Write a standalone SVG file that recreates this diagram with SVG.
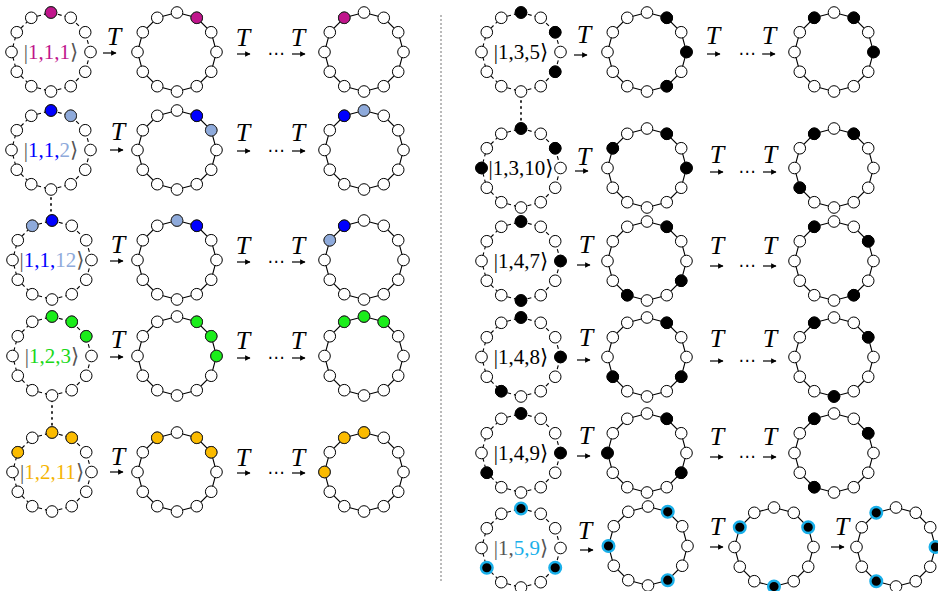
<svg xmlns="http://www.w3.org/2000/svg" xmlns:xlink="http://www.w3.org/1999/xlink" width="938" height="591" viewBox="0 0 938 591">
<style>
.n{fill:#fff;stroke:#000;stroke-width:1}
.rs{fill:none;stroke:#000;stroke-width:1.1}
.rd{fill:none;stroke:#000;stroke-width:1.1;stroke-dasharray:4 3}
.pk{fill:#c0158c;stroke:#222;stroke-width:1}
.bl{fill:#0000ff;stroke:#111;stroke-width:1}
.lb{fill:#8eaadb;stroke:#333;stroke-width:1}
.gr{fill:#1aee1a;stroke:#222;stroke-width:1}
.or{fill:#fbbb00;stroke:#222;stroke-width:1}
.bk{fill:#000;stroke:#000;stroke-width:1}
.cy{fill:#000;stroke:#1ab0ea;stroke-width:2.4}
.lbl{font-family:"Liberation Serif","DejaVu Serif",serif;font-size:21px;text-anchor:middle;fill:#555}
.lblk{fill:#000}
.T{font-family:"Liberation Serif","DejaVu Serif",serif;font-style:italic;font-size:26px;text-anchor:middle;fill:#000}
.dots{font-family:"DejaVu Sans",sans-serif;font-size:17px;text-anchor:middle;fill:#000}
.ar{stroke:#000;stroke-width:1.2;fill:none;marker-end:url(#ah)}
.vd{stroke:#000;stroke-width:1.6;stroke-dasharray:1.4 4.5;stroke-linecap:round}
.div{stroke:#777;stroke-width:1;stroke-dasharray:2 2}
</style>
<defs>
<marker id="ah" viewBox="0 0 10 10" refX="9" refY="5" markerWidth="4.5" markerHeight="4.5" orient="auto" markerUnits="strokeWidth"><path d="M0,0 L10,5 L0,10 z" fill="#000"/></marker>
<g id="nodes">
<circle class="n" cx="0" cy="-39.5" r="5.8"/><circle class="n" cx="19.75" cy="-34.21" r="5.8"/><circle class="n" cx="34.21" cy="-19.75" r="5.8"/><circle class="n" cx="39.5" cy="0" r="5.8"/><circle class="n" cx="34.21" cy="19.75" r="5.8"/><circle class="n" cx="19.75" cy="34.21" r="5.8"/><circle class="n" cx="0" cy="39.5" r="5.8"/><circle class="n" cx="-19.75" cy="34.21" r="5.8"/><circle class="n" cx="-34.21" cy="19.75" r="5.8"/><circle class="n" cx="-39.5" cy="0" r="5.8"/><circle class="n" cx="-34.21" cy="-19.75" r="5.8"/><circle class="n" cx="-19.75" cy="-34.21" r="5.8"/>
</g>
<g id="ringS"><polygon class="rs" points="0,-39.5 19.75,-34.21 34.21,-19.75 39.5,0 34.21,19.75 19.75,34.21 0,39.5 -19.75,34.21 -34.21,19.75 -39.5,0 -34.21,-19.75 -19.75,-34.21"/><use href="#nodes"/></g>
<g id="ringD"><polygon class="rd" points="0,-39.5 19.75,-34.21 34.21,-19.75 39.5,0 34.21,19.75 19.75,34.21 0,39.5 -19.75,34.21 -34.21,19.75 -39.5,0 -34.21,-19.75 -19.75,-34.21"/><use href="#nodes"/></g>
</defs>
<rect width="938" height="591" fill="#fff"/>

<g id="connectors">
<line class="div" x1="441" y1="15" x2="441" y2="583"/>
<line class="vd" x1="51" y1="192" x2="51" y2="211"/>
<line class="vd" x1="52" y1="400" x2="52" y2="426"/>
<line class="vd" x1="521" y1="95" x2="521" y2="122"/>
<line class="ar" x1="103" y1="53" x2="116" y2="53"/><line class="ar" x1="237" y1="54" x2="250" y2="54"/><line class="ar" x1="292" y1="54" x2="305" y2="54"/>
<line class="ar" x1="110" y1="150" x2="123" y2="150"/><line class="ar" x1="237" y1="151" x2="250" y2="151"/><line class="ar" x1="292" y1="151" x2="305" y2="151"/>
<line class="ar" x1="110" y1="261" x2="123" y2="261"/><line class="ar" x1="237" y1="262" x2="250" y2="262"/><line class="ar" x1="292" y1="262" x2="305" y2="262"/>
<line class="ar" x1="110" y1="357" x2="123" y2="357"/><line class="ar" x1="237" y1="358" x2="250" y2="358"/><line class="ar" x1="292" y1="358" x2="305" y2="358"/>
<line class="ar" x1="110" y1="472" x2="123" y2="472"/><line class="ar" x1="237" y1="473" x2="250" y2="473"/><line class="ar" x1="292" y1="473" x2="305" y2="473"/>
<line class="ar" x1="574" y1="55" x2="587" y2="55"/><line class="ar" x1="707" y1="54" x2="720" y2="54"/><line class="ar" x1="762" y1="54" x2="775" y2="54"/>
<line class="ar" x1="575" y1="171" x2="588" y2="171"/><line class="ar" x1="710" y1="172" x2="723" y2="172"/><line class="ar" x1="763" y1="172" x2="776" y2="172"/>
<line class="ar" x1="577" y1="265" x2="590" y2="265"/><line class="ar" x1="710" y1="266" x2="723" y2="266"/><line class="ar" x1="763" y1="266" x2="776" y2="266"/>
<line class="ar" x1="577" y1="360" x2="590" y2="360"/><line class="ar" x1="710" y1="361" x2="723" y2="361"/><line class="ar" x1="763" y1="361" x2="776" y2="361"/>
<line class="ar" x1="577" y1="456" x2="590" y2="456"/><line class="ar" x1="710" y1="457" x2="723" y2="457"/><line class="ar" x1="763" y1="457" x2="776" y2="457"/>
<line class="ar" x1="580" y1="550" x2="593" y2="550"/><line class="ar" x1="710" y1="547" x2="723" y2="547"/><line class="ar" x1="831" y1="547" x2="844" y2="547"/>
</g>

<g id="labels-T">
<text class="T" x="114" y="45">T</text><text class="T" x="243" y="46">T</text><text class="dots" x="276" y="59">⋯</text><text class="T" x="298" y="46">T</text>
<text class="T" x="118" y="140">T</text><text class="T" x="243" y="141">T</text><text class="dots" x="276" y="156">⋯</text><text class="T" x="298" y="141">T</text>
<text class="T" x="118" y="253">T</text><text class="T" x="243" y="254">T</text><text class="dots" x="276" y="267">⋯</text><text class="T" x="298" y="254">T</text>
<text class="T" x="118" y="348">T</text><text class="T" x="243" y="349">T</text><text class="dots" x="276" y="363">⋯</text><text class="T" x="298" y="349">T</text>
<text class="T" x="118" y="465">T</text><text class="T" x="243" y="466">T</text><text class="dots" x="276" y="478">⋯</text><text class="T" x="298" y="466">T</text>
<text class="T" x="584" y="43">T</text><text class="T" x="713" y="44">T</text><text class="dots" x="747" y="59">⋯</text><text class="T" x="769" y="44">T</text>
<text class="T" x="584" y="165">T</text><text class="T" x="717" y="163">T</text><text class="dots" x="747" y="177">⋯</text><text class="T" x="770" y="163">T</text>
<text class="T" x="586" y="253">T</text><text class="T" x="717" y="254">T</text><text class="dots" x="747" y="271">⋯</text><text class="T" x="770" y="254">T</text>
<text class="T" x="586" y="346">T</text><text class="T" x="717" y="347">T</text><text class="dots" x="747" y="366">⋯</text><text class="T" x="770" y="347">T</text>
<text class="T" x="586" y="444">T</text><text class="T" x="717" y="445">T</text><text class="dots" x="747" y="462">⋯</text><text class="T" x="770" y="445">T</text>
<text class="T" x="585" y="539">T</text><text class="T" x="717" y="535">T</text><text class="T" x="842" y="535">T</text>
</g>

<g id="row111">
<g id="r111a" transform="translate(51,52)"><use href="#ringD"/><circle class="pk" cx="0" cy="-39.5" r="5.8"/><text class="lbl" x="0" y="7">|<tspan fill="#c0158c">1,1,1</tspan>⟩</text></g>
<g id="r111b" transform="translate(177,52)"><use href="#ringS"/><circle class="pk" cx="19.75" cy="-34.21" r="5.8"/></g>
<g id="r111c" transform="translate(364,52)"><use href="#ringS"/><circle class="pk" cx="-19.75" cy="-34.21" r="5.8"/></g>
</g>
<g id="row112">
<g id="r112a" transform="translate(51,150)"><use href="#ringD"/><circle class="bl" cx="0" cy="-39.5" r="5.8"/><circle class="lb" cx="19.75" cy="-34.21" r="5.8"/><text class="lbl" x="0" y="7">|<tspan fill="#0000ff">1,1,</tspan><tspan fill="#8eaadb">2</tspan>⟩</text></g>
<g id="r112b" transform="translate(177,150)"><use href="#ringS"/><circle class="bl" cx="19.75" cy="-34.21" r="5.8"/><circle class="lb" cx="34.21" cy="-19.75" r="5.8"/></g>
<g id="r112c" transform="translate(364,150)"><use href="#ringS"/><circle class="bl" cx="-19.75" cy="-34.21" r="5.8"/><circle class="lb" cx="0" cy="-39.5" r="5.8"/></g>
</g>
<g id="row1112">
<g id="r1112a" transform="translate(52,260)"><use href="#ringD"/><circle class="bl" cx="0" cy="-39.5" r="5.8"/><circle class="lb" cx="-19.75" cy="-34.21" r="5.8"/><text class="lbl" x="0" y="7">|<tspan fill="#0000ff">1,1,</tspan><tspan fill="#8eaadb">12</tspan>⟩</text></g>
<g id="r1112b" transform="translate(177,260)"><use href="#ringS"/><circle class="lb" cx="0" cy="-39.5" r="5.8"/><circle class="bl" cx="19.75" cy="-34.21" r="5.8"/></g>
<g id="r1112c" transform="translate(364,260)"><use href="#ringS"/><circle class="bl" cx="-19.75" cy="-34.21" r="5.8"/><circle class="lb" cx="-34.21" cy="-19.75" r="5.8"/></g>
</g>
<g id="row123">
<g id="r123a" transform="translate(52,356)"><use href="#ringD"/><circle class="gr" cx="0" cy="-39.5" r="5.8"/><circle class="gr" cx="19.75" cy="-34.21" r="5.8"/><circle class="gr" cx="34.21" cy="-19.75" r="5.8"/><text class="lbl" x="0" y="7">|<tspan fill="#1ad81a">1,2,3</tspan>⟩</text></g>
<g id="r123b" transform="translate(177,356)"><use href="#ringS"/><circle class="gr" cx="19.75" cy="-34.21" r="5.8"/><circle class="gr" cx="34.21" cy="-19.75" r="5.8"/><circle class="gr" cx="39.5" cy="0" r="5.8"/></g>
<g id="r123c" transform="translate(364,356)"><use href="#ringS"/><circle class="gr" cx="-19.75" cy="-34.21" r="5.8"/><circle class="gr" cx="0" cy="-39.5" r="5.8"/><circle class="gr" cx="19.75" cy="-34.21" r="5.8"/></g>
</g>
<g id="row1211">
<g id="r1211a" transform="translate(52,472)"><use href="#ringD"/><circle class="or" cx="0" cy="-39.5" r="5.8"/><circle class="or" cx="19.75" cy="-34.21" r="5.8"/><circle class="or" cx="-34.21" cy="-19.75" r="5.8"/><text class="lbl" x="0" y="7">|<tspan fill="#f5b400">1,2,11</tspan>⟩</text></g>
<g id="r1211b" transform="translate(177,472)"><use href="#ringS"/><circle class="or" cx="19.75" cy="-34.21" r="5.8"/><circle class="or" cx="34.21" cy="-19.75" r="5.8"/><circle class="or" cx="-19.75" cy="-34.21" r="5.8"/></g>
<g id="r1211c" transform="translate(364,472)"><use href="#ringS"/><circle class="or" cx="-19.75" cy="-34.21" r="5.8"/><circle class="or" cx="0" cy="-39.5" r="5.8"/><circle class="or" cx="-39.5" cy="0" r="5.8"/></g>
</g>

<g id="row135">
<g id="r135a" transform="translate(521,52)"><use href="#ringD"/><circle class="bk" cx="0" cy="-39.5" r="5.8"/><circle class="bk" cx="34.21" cy="-19.75" r="5.8"/><circle class="bk" cx="34.21" cy="19.75" r="5.8"/><text class="lbl lblk" x="0" y="7">|1,3,5⟩</text></g>
<g id="r135b" transform="translate(647,52)"><use href="#ringS"/><circle class="bk" cx="19.75" cy="-34.21" r="5.8"/><circle class="bk" cx="39.5" cy="0" r="5.8"/><circle class="bk" cx="19.75" cy="34.21" r="5.8"/></g>
<g id="r135c" transform="translate(834,52)"><use href="#ringS"/><circle class="bk" cx="-19.75" cy="-34.21" r="5.8"/><circle class="bk" cx="19.75" cy="-34.21" r="5.8"/><circle class="bk" cx="39.5" cy="0" r="5.8"/></g>
</g>
<g id="row1310">
<g id="r1310a" transform="translate(521,168)"><use href="#ringD"/><circle class="bk" cx="0" cy="-39.5" r="5.8"/><circle class="bk" cx="34.21" cy="-19.75" r="5.8"/><circle class="bk" cx="-39.5" cy="0" r="5.8"/><text class="lbl lblk" x="0" y="7">|1,3,10⟩</text></g>
<g id="r1310b" transform="translate(647,168)"><use href="#ringS"/><circle class="bk" cx="19.75" cy="-34.21" r="5.8"/><circle class="bk" cx="39.5" cy="0" r="5.8"/><circle class="bk" cx="-34.21" cy="-19.75" r="5.8"/></g>
<g id="r1310c" transform="translate(834,168)"><use href="#ringS"/><circle class="bk" cx="-19.75" cy="-34.21" r="5.8"/><circle class="bk" cx="19.75" cy="-34.21" r="5.8"/><circle class="bk" cx="-34.21" cy="19.75" r="5.8"/></g>
</g>
<g id="row147">
<g id="r147a" transform="translate(521,261)"><use href="#ringD"/><circle class="bk" cx="0" cy="-39.5" r="5.8"/><circle class="bk" cx="39.5" cy="0" r="5.8"/><circle class="bk" cx="0" cy="39.5" r="5.8"/><text class="lbl lblk" x="0" y="7">|1,4,7⟩</text></g>
<g id="r147b" transform="translate(647,261)"><use href="#ringS"/><circle class="bk" cx="19.75" cy="-34.21" r="5.8"/><circle class="bk" cx="34.21" cy="19.75" r="5.8"/><circle class="bk" cx="-19.75" cy="34.21" r="5.8"/></g>
<g id="r147c" transform="translate(834,261)"><use href="#ringS"/><circle class="bk" cx="-19.75" cy="-34.21" r="5.8"/><circle class="bk" cx="34.21" cy="-19.75" r="5.8"/><circle class="bk" cx="19.75" cy="34.21" r="5.8"/></g>
</g>
<g id="row148">
<g id="r148a" transform="translate(521,357)"><use href="#ringD"/><circle class="bk" cx="0" cy="-39.5" r="5.8"/><circle class="bk" cx="39.5" cy="0" r="5.8"/><circle class="bk" cx="-19.75" cy="34.21" r="5.8"/><text class="lbl lblk" x="0" y="7">|1,4,8⟩</text></g>
<g id="r148b" transform="translate(647,357)"><use href="#ringS"/><circle class="bk" cx="19.75" cy="-34.21" r="5.8"/><circle class="bk" cx="34.21" cy="19.75" r="5.8"/><circle class="bk" cx="-34.21" cy="19.75" r="5.8"/></g>
<g id="r148c" transform="translate(834,357)"><use href="#ringS"/><circle class="bk" cx="-19.75" cy="-34.21" r="5.8"/><circle class="bk" cx="34.21" cy="-19.75" r="5.8"/><circle class="bk" cx="0" cy="39.5" r="5.8"/></g>
</g>
<g id="row149">
<g id="r149a" transform="translate(521,453)"><use href="#ringD"/><circle class="bk" cx="0" cy="-39.5" r="5.8"/><circle class="bk" cx="39.5" cy="0" r="5.8"/><circle class="bk" cx="-34.21" cy="19.75" r="5.8"/><text class="lbl lblk" x="0" y="7">|1,4,9⟩</text></g>
<g id="r149b" transform="translate(647,453)"><use href="#ringS"/><circle class="bk" cx="19.75" cy="-34.21" r="5.8"/><circle class="bk" cx="34.21" cy="19.75" r="5.8"/><circle class="bk" cx="-39.5" cy="0" r="5.8"/></g>
<g id="r149c" transform="translate(834,453)"><use href="#ringS"/><circle class="bk" cx="-19.75" cy="-34.21" r="5.8"/><circle class="bk" cx="34.21" cy="-19.75" r="5.8"/><circle class="bk" cx="-19.75" cy="34.21" r="5.8"/></g>
</g>
<g id="row159">
<g id="r159a" transform="translate(521,548)"><use href="#ringD"/><circle class="cy" cx="0" cy="-39.5" r="5.8"/><circle class="cy" cx="34.21" cy="19.75" r="5.8"/><circle class="cy" cx="-34.21" cy="19.75" r="5.8"/><text class="lbl" x="0" y="7">|1,<tspan fill="#1ab0ea">5,9</tspan>⟩</text></g>
<g id="r159b" transform="translate(648,546)"><use href="#ringS"/><circle class="cy" cx="19.75" cy="-34.21" r="5.8"/><circle class="cy" cx="19.75" cy="34.21" r="5.8"/><circle class="cy" cx="-39.5" cy="0" r="5.8"/></g>
<g id="r159c" transform="translate(774,547)"><use href="#ringS"/><circle class="cy" cx="34.21" cy="-19.75" r="5.8"/><circle class="cy" cx="0" cy="39.5" r="5.8"/><circle class="cy" cx="-34.21" cy="-19.75" r="5.8"/></g>
<g id="r159d" transform="translate(896,547)"><use href="#ringS"/><circle class="cy" cx="39.5" cy="0" r="5.8"/><circle class="cy" cx="-19.75" cy="34.21" r="5.8"/><circle class="cy" cx="-19.75" cy="-34.21" r="5.8"/></g>
</g>
</svg>
